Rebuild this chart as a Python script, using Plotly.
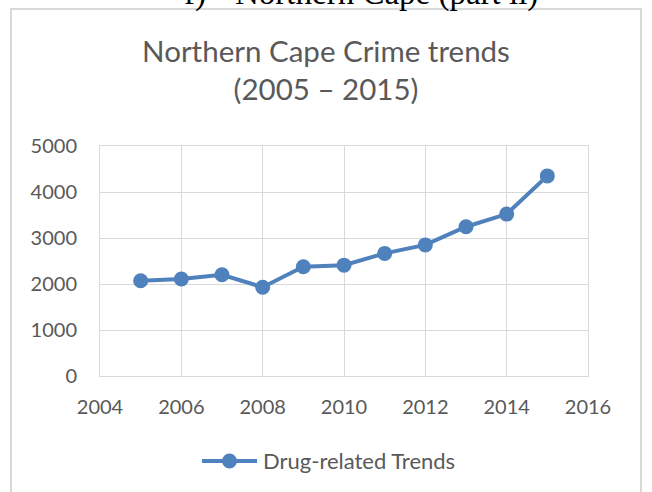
import plotly.graph_objects as go

# Annual drug-related crime counts, Northern Cape
years = [2005, 2006, 2007, 2008, 2009, 2010, 2011, 2012, 2013, 2014, 2015]
drug_related = [2070, 2110, 2200, 1930, 2375, 2410, 2665, 2850, 3245, 3520, 4350]
series_name = "Drug-related Trends"

x_ticks = [2004, 2006, 2008, 2010, 2012, 2014, 2016]
y_ticks = [0, 1000, 2000, 3000, 4000, 5000]

W, H = 652, 492
L, R, T, B = 100, 64, 146, 116
PW, PH = W - L - R, H - T - B

def fx(px):
    return (px - L) / PW

def fy(py):
    return (H - B - py) / PH

FONT = "Lato"
GREY_TXT = "#595959"
GRID = "#d9d9d9"
BLUE = "#4f81bd"

fig = go.Figure()
fig.add_trace(go.Scatter(
    x=years, y=drug_related, mode="lines+markers",
    name=series_name, showlegend=False,
    line=dict(color=BLUE, width=4),
    marker=dict(color=BLUE, size=15),
))

fig.update_layout(
    width=W, height=H,
    margin=dict(l=L, r=R, t=T, b=B, autoexpand=False),
    paper_bgcolor="white", plot_bgcolor="white",
    font=dict(family=FONT, color=GREY_TXT),
    title=dict(
        text="Northern Cape Crime trends<br>(2005 \u2013 2015)",
        font=dict(family=FONT, size=29.5, color=GREY_TXT),
        x=0.5, xref="container", xanchor="center",
        y=1 - 62 / H, yref="container", yanchor="top",
    ),
    xaxis=dict(
        range=[2004, 2016], tickvals=x_ticks, ticktext=[str(v) for v in x_ticks],
        showgrid=True, gridcolor=GRID, gridwidth=1,
        showline=True, linecolor=GRID, linewidth=1, mirror=True,
        zeroline=False, ticks="", ticklabelstandoff=13,
        tickfont=dict(family=FONT, size=20, color=GREY_TXT),
    ),
    yaxis=dict(
        range=[0, 5000], tickvals=y_ticks, ticktext=[str(v) for v in y_ticks],
        showgrid=True, gridcolor=GRID, gridwidth=1,
        showline=True, linecolor=GRID, linewidth=1, mirror=True,
        zeroline=False, ticks="", ticklabelstandoff=18,
        tickfont=dict(family=FONT, size=20, color=GREY_TXT),
    ),
)

# Outer chart frame
fig.add_shape(
    type="rect", xref="paper", yref="paper",
    x0=fx(11), x1=fx(641), y0=fy(520), y1=fy(9),
    line=dict(color=GRID, width=2), fillcolor="rgba(0,0,0,0)", layer="below",
)

# Legend key below the plot: line sample, marker and series label
leg_y = fy(461)
fig.add_shape(
    type="line", xref="paper", yref="paper",
    x0=fx(202), x1=fx(257), y0=leg_y, y1=leg_y,
    line=dict(color=BLUE, width=4),
)
fig.add_shape(
    type="circle", xref="paper", yref="paper",
    x0=fx(229.5 - 7.5), x1=fx(229.5 + 7.5), y0=fy(461 + 7.5), y1=fy(461 - 7.5),
    line=dict(color=BLUE, width=0), fillcolor=BLUE,
)
fig.add_annotation(
    text=series_name, xref="paper", yref="paper", x=fx(261), xanchor="left",
    y=leg_y, yanchor="middle", showarrow=False,
    font=dict(family=FONT, size=22, color=GREY_TXT),
)

# Heading of the surrounding document section
fig.add_annotation(
    text="f)", xref="paper", yref="paper", x=fx(182), xanchor="left",
    y=fy(-7), yanchor="middle", showarrow=False,
    font=dict(family="Liberation Serif", size=33, color="black"),
)
fig.add_annotation(
    text="Northern Cape (part ii)", xref="paper", yref="paper",
    x=fx(233), xanchor="left", y=fy(-7), yanchor="middle", showarrow=False,
    font=dict(family="Liberation Serif", size=33, color="black"),
)

fig.write_html("out.html")
